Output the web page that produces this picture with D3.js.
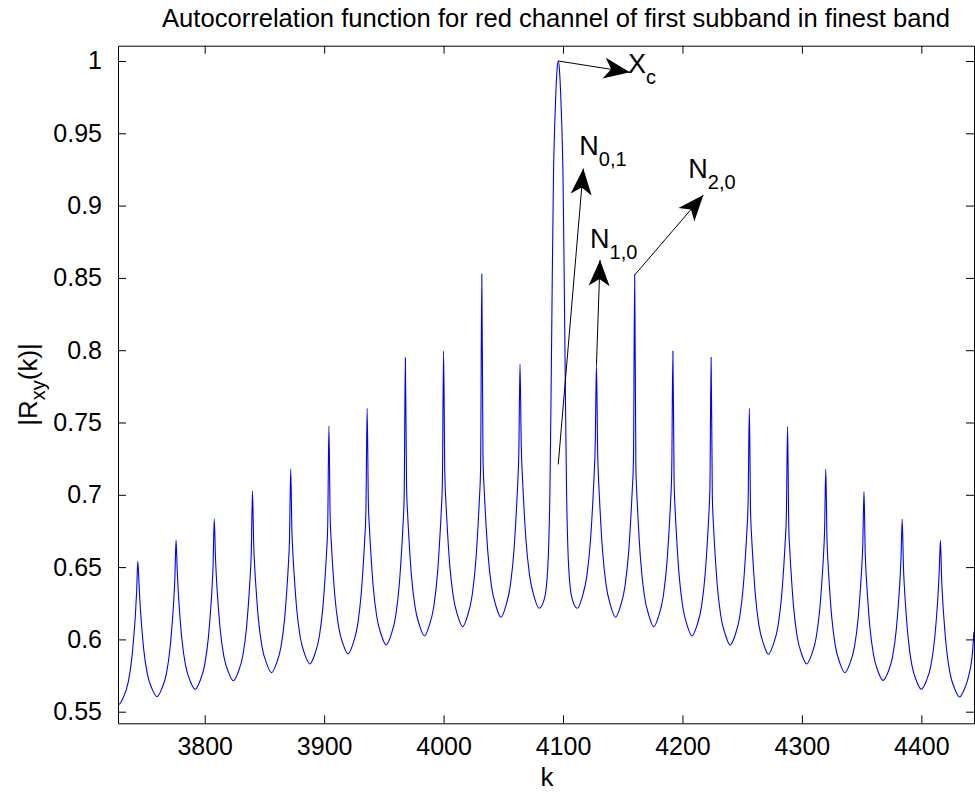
<!DOCTYPE html>
<html><head><meta charset="utf-8">
<script src="https://cdn.jsdelivr.net/npm/d3@7"></script>
<style>body{margin:0;background:#fff}svg{display:block}text{font-family:"Liberation Sans",Arial,Helvetica,sans-serif;fill:#000}</style>
</head><body><svg id="chart" width="975" height="793"></svg>
<script>
// ---------- data ----------
const xTicks = [3800, 3900, 4000, 4100, 4200, 4300, 4400];
const yTicks = [0.55, 0.6, 0.65, 0.7, 0.75, 0.8, 0.85, 0.9, 0.95, 1];

// lags of the valleys between cusps and their |R| values
const valleyK = [3728,3760,3792,3824,3856,3888,3920,3952,3984,4016,4048,4080,4112,4144,4176,4208,4240,4272,4304,4336,4368,4400,4432];
const valleyR = [0.555,0.5604,0.5655,0.5714,0.577,0.583,0.590,0.5961,0.6024,0.6088,0.6153,0.6215,0.6215,0.6153,0.6088,0.6024,0.5961,0.5897,0.583,0.577,0.5717,0.5655,0.5602];

// lags of the side cusps (all peaks but the central one)
const cuspK = [3744,3776,3808,3840,3872,3904,3936,3968,4000,4032,4064,4128,4160,4192,4224,4256,4288,4320,4352,4384,4416];
// lag offsets around each cusp peak at which values were read
const cuspOffsets = [-12,-8,-5,-3,-2,-1,0,1,2,3,5,8,12];
const cuspRows = [
  [0.5602,0.5706,0.5872,0.6060,0.6174,0.6330,0.654 ,0.6384,0.6228,0.6114,0.5926,0.5760,0.5656],
  [0.5658,0.5767,0.5941,0.6137,0.6257,0.6420,0.6687,0.6471,0.6308,0.6188,0.5992,0.5818,0.5709],
  [0.5712,0.5825,0.6007,0.6212,0.6337,0.6507,0.6833,0.6566,0.6396,0.6271,0.6066,0.5884,0.5771],
  [0.5773,0.5892,0.6081,0.6294,0.6424,0.6602,0.7026,0.6658,0.6480,0.6350,0.6137,0.5948,0.5829],
  [0.5832,0.5955,0.6152,0.6374,0.6509,0.6694,0.7178,0.6754,0.6569,0.6434,0.6212,0.6015,0.5892],
  [0.5894,0.6022,0.6227,0.6457,0.6598,0.6790,0.7476,0.6860,0.6668,0.6527,0.6297,0.6092,0.5964],
  [0.5966,0.6099,0.6312,0.6551,0.6697,0.6896,0.7598,0.6957,0.6758,0.6612,0.6373,0.6160,0.6027],
  [0.6030,0.6167,0.6388,0.6635,0.6787,0.6993,0.7948,0.7056,0.6850,0.6698,0.6451,0.6230,0.6093],
  [0.6095,0.6238,0.6465,0.6722,0.6878,0.7092,0.7994,0.7156,0.6942,0.6786,0.6529,0.6302,0.6159],
  [0.6162,0.6309,0.6544,0.6809,0.6971,0.7192,0.8527,0.7257,0.7036,0.6874,0.6609,0.6374,0.6227],
  [0.6229,0.6381,0.6624,0.6898,0.7065,0.7293,0.7902,0.7355,0.7127,0.6960,0.6686,0.6443,0.6291],
  [0.6291,0.6443,0.6686,0.6960,0.7127,0.7355,0.790 ,0.7293,0.7065,0.6898,0.6624,0.6381,0.6229],
  [0.6227,0.6374,0.6609,0.6874,0.7036,0.7257,0.852 ,0.7192,0.6971,0.6809,0.6544,0.6309,0.6162],
  [0.6159,0.6302,0.6529,0.6786,0.6942,0.7156,0.7994,0.7092,0.6878,0.6722,0.6465,0.6238,0.6095],
  [0.6093,0.6230,0.6451,0.6698,0.6850,0.7056,0.795 ,0.6993,0.6787,0.6635,0.6388,0.6167,0.6030],
  [0.6027,0.6160,0.6373,0.6612,0.6758,0.6957,0.7598,0.6896,0.6697,0.6551,0.6312,0.6099,0.5966],
  [0.5964,0.6092,0.6297,0.6527,0.6668,0.6860,0.7474,0.6790,0.6598,0.6457,0.6227,0.6022,0.5894],
  [0.5892,0.6015,0.6212,0.6434,0.6569,0.6754,0.7178,0.6694,0.6509,0.6374,0.6152,0.5955,0.5832],
  [0.5829,0.5948,0.6137,0.6350,0.6480,0.6658,0.7022,0.6602,0.6424,0.6294,0.6081,0.5892,0.5773],
  [0.5771,0.5884,0.6066,0.6271,0.6396,0.6566,0.683 ,0.6507,0.6337,0.6212,0.6007,0.5825,0.5712],
  [0.5709,0.5818,0.5992,0.6188,0.6308,0.6471,0.6685,0.6420,0.6257,0.6137,0.5941,0.5767,0.5658]
];

// central peak (k = 4096)
const centerK = [4084,4086,4088,4089,4090,4091,4092,4093,4094,4095,4096,4097,4098,4099,4100,4101,4102,4103,4104,4106,4108];
const centerR = [0.627,0.636,0.665,0.70,0.77,0.85,0.92,0.955,0.978,0.994,1.0,0.994,0.978,0.955,0.92,0.85,0.77,0.70,0.665,0.636,0.627];

// ends of the plotted range
const edgeK = [3727, 4436, 4440, 4443, 4444];
const edgeR = [0.5555, 0.5656, 0.5760, 0.5926, 0.6053];

// annotations: arrows (from data point to head) and labels
const arrowFromK = [4096, 4096, 4128, 4160];
const arrowFromR = [1.0, 0.721, 0.790, 0.852];
const arrowToK   = [4156, 4117, 4131, 4217.5];
const arrowToR   = [0.9922, 0.9256, 0.8624, 0.9073];
const arrowMain  = ["X", "N", "N", "N"];
const arrowSub   = ["c", "0,1", "1,0", "2,0"];

// ---------- drawing ----------
const PL = 118, PR = 974, PT = 45.7, PB = 723.3;
const svg = d3.select("#chart");

const x = d3.scaleLinear().domain([3727.4, 4444.1]).range([PL, PR]);
const y = d3.scaleLinear().domain([0.54198, 1.01058]).range([PB, PT]);

// build the series
const pts = [];
valleyK.forEach((k, i) => pts.push([k, valleyR[i]]));
edgeK.forEach((k, i) => pts.push([k, edgeR[i]]));
cuspK.forEach((p, i) => cuspOffsets.forEach((o, j) => pts.push([p + o, cuspRows[i][j]])));
centerK.forEach((k, i) => pts.push([k, centerR[i]]));
pts.sort((a, b) => a[0] - b[0]);

svg.append("defs").append("clipPath").attr("id", "clip")
  .append("rect").attr("x", PL).attr("y", PT).attr("width", PR - PL).attr("height", PB - PT);

svg.append("path")
  .datum(pts)
  .attr("clip-path", "url(#clip)")
  .attr("fill", "none")
  .attr("stroke", "#0000ff")
  .attr("stroke-width", 1.1)
  .attr("d", d3.line().curve(d3.curveMonotoneX).x(d => x(d[0])).y(d => y(d[1])));

// axes (MATLAB box style, inward ticks)
const fmtY = d => String(+d.toFixed(2));
const tickLen = 8;
const gB = svg.append("g").attr("transform", `translate(0,${PB})`)
  .call(d3.axisBottom(x).tickValues(xTicks).tickSizeInner(-tickLen).tickSizeOuter(0).tickPadding(14).tickFormat(d3.format("d")));
const gT = svg.append("g").attr("transform", `translate(0,${PT})`)
  .call(d3.axisTop(x).tickValues(xTicks).tickSizeInner(-tickLen).tickSizeOuter(0).tickFormat(""));
const gL = svg.append("g").attr("transform", `translate(${PL},0)`)
  .call(d3.axisLeft(y).tickValues(yTicks).tickSizeInner(-tickLen).tickSizeOuter(0).tickPadding(16).tickFormat(fmtY));
const gR = svg.append("g").attr("transform", `translate(${PR},0)`)
  .call(d3.axisRight(y).tickValues(yTicks).tickSizeInner(-tickLen).tickSizeOuter(0).tickFormat(""));
[gB, gT, gL, gR].forEach(g => {
  g.selectAll(".domain").attr("stroke", "#000").attr("stroke-width", 1);
  g.selectAll(".tick line").attr("stroke", "#000");
  g.selectAll(".tick text").style("font-size", "25px").attr("fill", "#000");
});
gB.selectAll(".tick text").attr("dy", "0.71em");

// title
svg.append("text").attr("x", 556).attr("y", 27).attr("text-anchor", "middle")
  .attr("textLength", 788).attr("lengthAdjust", "spacingAndGlyphs")
  .style("font-size", "25px")
  .text("Autocorrelation function for red channel of first subband in finest band");

// x label
svg.append("text").attr("x", 547).attr("y", 786).attr("text-anchor", "middle").style("font-size", "26px").text("k");

// y label |R_xy(k)|
const yl = svg.append("text").attr("transform", `translate(37,${(PT + PB) / 2}) rotate(-90)`)
  .attr("text-anchor", "middle").style("font-size", "26px");
yl.append("tspan").text("|R");
yl.append("tspan").attr("dy", 8).style("font-size", "20px").text("xy");
yl.append("tspan").attr("dy", -8).text("(k)|");

// arrows
const head = (x0, y0, x1, y1, len, hw, notch) => {
  const a = Math.atan2(y1 - y0, x1 - x0), c = Math.cos(a), s = Math.sin(a);
  const p = (u, v) => [x1 + u * c - v * s, y1 + u * s + v * c];
  return [p(0, 0), p(-len, hw), p(-len + notch, 0), p(-len, -hw)];
};
const labelDX = [-2, -4, -10, -15];
const labelDY = [1, -14, -12, -17];
arrowFromK.forEach((k, i) => {
  const x0 = x(k), y0 = y(arrowFromR[i]), x1 = x(arrowToK[i]), y1 = y(arrowToR[i]);
  svg.append("line").attr("x1", x0).attr("y1", y0).attr("x2", x1).attr("y2", y1)
    .attr("stroke", "#000").attr("stroke-width", 1);
  svg.append("path").attr("d", "M" + head(x0, y0, x1, y1, 26, 10.5, 7).join("L") + "Z").attr("fill", "#000");
  const t = svg.append("text").attr("x", x1 + labelDX[i]).attr("y", y1 + labelDY[i]).style("font-size", "27px");
  t.append("tspan").text(arrowMain[i]);
  t.append("tspan").attr("dy", 11).style("font-size", "20px").text(arrowSub[i]);
});
</script></body></html>
